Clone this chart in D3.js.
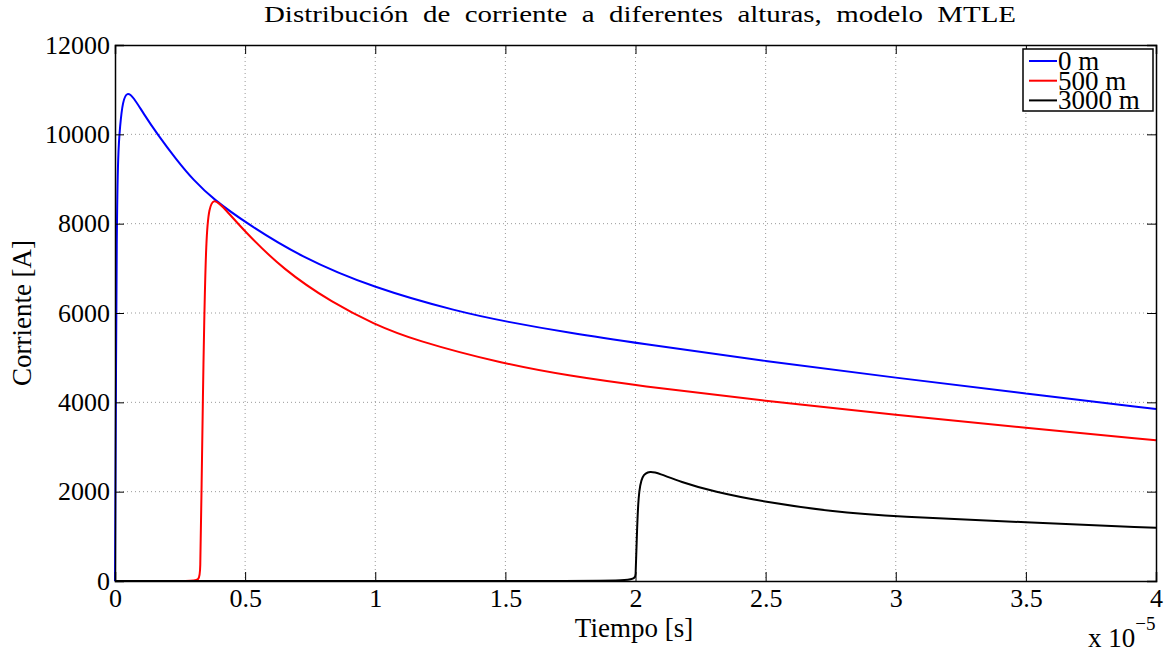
<!DOCTYPE html>
<html>
<head>
<meta charset="utf-8">
<script src="https://cdn.jsdelivr.net/npm/d3@7"></script>
<style>
  body { margin: 0; background: #fff; }
  svg text { font-family: "Liberation Serif", serif; fill: #000; }
</style>
</head>
<body>
<svg id="canvas" width="1165" height="652" font-family="Liberation Serif, serif"></svg>
<script>
// time in units of 1e-5 s, current in A
let xTicks = [0, 0.5, 1, 1.5, 2, 2.5, 3, 3.5, 4]
let yTicks = [0, 2000, 4000, 6000, 8000, 10000, 12000]
let seriesNames = ['0 m', '500 m', '3000 m']
let seriesColors = ['#0000ff', '#ff0000', '#000000']

let t0m = [0, 0, 0.003, 0.0064, 0.012, 0.019, 0.03, 0.047, 0.07, 0.109, 0.163, 0.237, 0.301, 0.378, 0.506, 0.711, 0.993, 1.326, 1.5, 1.75, 2.0, 2.5, 3.0, 3.5, 4.0, 4.0]
let i0m = [0, 0, 3500, 8000, 9600, 10170, 10760, 10950, 10840, 10470, 10000, 9425, 8978, 8545, 8007, 7260, 6560, 6020, 5810, 5550, 5330, 4920, 4550, 4200, 3850, 3850]

let t500m = [0, 0, 0.325, 0.327, 0.333, 0.338, 0.342, 0.35, 0.362, 0.38, 0.4, 0.42, 0.493, 0.647, 0.839, 0.993, 1.146, 1.5, 1.75, 2.0, 2.5, 3.0, 3.5, 4.0, 4.0]
let i500m = [0, 0, 0, 0, 2200, 4200, 5600, 7700, 8380, 8540, 8450, 8350, 7858, 6963, 6216, 5760, 5396, 4850, 4590, 4380, 4030, 3720, 3430, 3150, 3150]

let t3000m = [0, 0, 1.998, 2.0, 2.005, 2.011, 2.024, 2.056, 2.09, 2.171, 2.299, 2.504, 2.747, 3.0, 3.5, 4.0, 4.0]
let i3000m = [0, 0, 0, 0, 1000, 1925, 2380, 2460, 2410, 2224, 2000, 1762, 1560, 1440, 1315, 1190, 1190]

let series = [
    t0m.map((t, i) => [t, i0m[i]]),
    t500m.map((t, i) => [t, i500m[i]]),
    t3000m.map((t, i) => [t, i3000m[i]])
]

let canvas = d3.select('#canvas')
let mLeft = 115, mRight = 1156, mTop = 45, mBottom = 581

let xScale = d3.scaleLinear().domain([0, 4]).range([mLeft, mRight])
let yScale = d3.scaleLinear().domain([0, 12000]).range([mBottom, mTop])

// dotted grid
canvas.append('g').selectAll('line')
    .data(xTicks.slice(1, -1))
    .enter().append('line')
    .attr('x1', d => xScale(d)).attr('x2', d => xScale(d))
    .attr('y1', mTop).attr('y2', mBottom)
    .attr('stroke', '#999').attr('stroke-width', 1).attr('stroke-dasharray', '1,3')
canvas.append('g').selectAll('line')
    .data(yTicks.slice(1, -1))
    .enter().append('line')
    .attr('x1', mLeft).attr('x2', mRight)
    .attr('y1', d => yScale(d)).attr('y2', d => yScale(d))
    .attr('stroke', '#999').attr('stroke-width', 1).attr('stroke-dasharray', '1,3')

// data lines (basis spline smooths the read-off points; end points doubled to pin them)
let line = d3.line()
    .x(d => xScale(d[0]))
    .y(d => yScale(d[1]))
    .curve(d3.curveBasis)

canvas.append('g').selectAll('path')
    .data(series)
    .enter().append('path')
    .attr('d', line)
    .attr('fill', 'none')
    .attr('stroke', (d, i) => seriesColors[i])
    .attr('stroke-width', 2)

// axes with inward ticks, box
let tickLen = 9
let xAxisB = d3.axisBottom(xScale).tickValues(xTicks).tickSize(-tickLen).tickPadding(8).tickFormat(d3.format('~g'))
let xAxisT = d3.axisTop(xScale).tickValues(xTicks).tickSize(-tickLen).tickFormat('')
let yAxisL = d3.axisLeft(yScale).tickValues(yTicks).tickSize(-tickLen).tickPadding(5).tickFormat(d3.format('d'))
let yAxisR = d3.axisRight(yScale).tickValues(yTicks).tickSize(-tickLen).tickFormat('')

let styleAxis = (g) => {
    g.attr('font-family', 'Liberation Serif, serif')
    g.select('.domain').attr('stroke', '#000').attr('stroke-width', 1.5)
    g.selectAll('.tick line').attr('stroke', '#000').attr('stroke-width', 1)
    g.selectAll('.tick text').attr('font-size', 26)
}

canvas.append('g').attr('transform', `translate(0,${mBottom})`).call(xAxisB).call(styleAxis)
canvas.append('g').attr('transform', `translate(0,${mTop})`).call(xAxisT).call(styleAxis)
canvas.append('g').attr('transform', `translate(${mLeft},0)`).call(yAxisL).call(styleAxis)
canvas.append('g').attr('transform', `translate(${mRight},0)`).call(yAxisR).call(styleAxis)

// title and labels
canvas.append('text')
    .attr('x', 264).attr('y', 22)
    .attr('font-size', 24)
    .attr('word-spacing', 6)
    .attr('textLength', 752).attr('lengthAdjust', 'spacingAndGlyphs')
    .text('Distribución de corriente a diferentes alturas, modelo MTLE')

canvas.append('text')
    .attr('x', 634).attr('y', 637)
    .attr('text-anchor', 'middle').attr('font-size', 27)
    .text('Tiempo [s]')

canvas.append('text')
    .attr('transform', `translate(31,${(mTop + mBottom) / 2}) rotate(-90)`)
    .attr('text-anchor', 'middle').attr('font-size', 27)
    .text('Corriente [A]')

let expo = canvas.append('text').attr('x', 1088).attr('y', 647).attr('font-size', 27)
expo.append('tspan').text('x 10')
expo.append('tspan').attr('dy', -17).attr('font-size', 19).text('−5')

// legend
let legend = canvas.append('g')
legend.append('rect')
    .attr('x', 1023).attr('y', 49).attr('width', 130).attr('height', 62)
    .attr('fill', '#fff').attr('stroke', '#000').attr('stroke-width', 1.5)
let items = legend.selectAll('g.item')
    .data(seriesNames)
    .enter().append('g').attr('class', 'item')
    .attr('transform', (d, i) => `translate(0,${61 + i * 19.7})`)
items.append('line')
    .attr('x1', 1029).attr('x2', 1057).attr('y1', 0).attr('y2', 0)
    .attr('stroke', (d, i) => seriesColors[i]).attr('stroke-width', 2)
items.append('text')
    .attr('x', 1058).attr('y', 9).attr('font-size', 27)
    .text(d => d)
</script>
</body>
</html>
